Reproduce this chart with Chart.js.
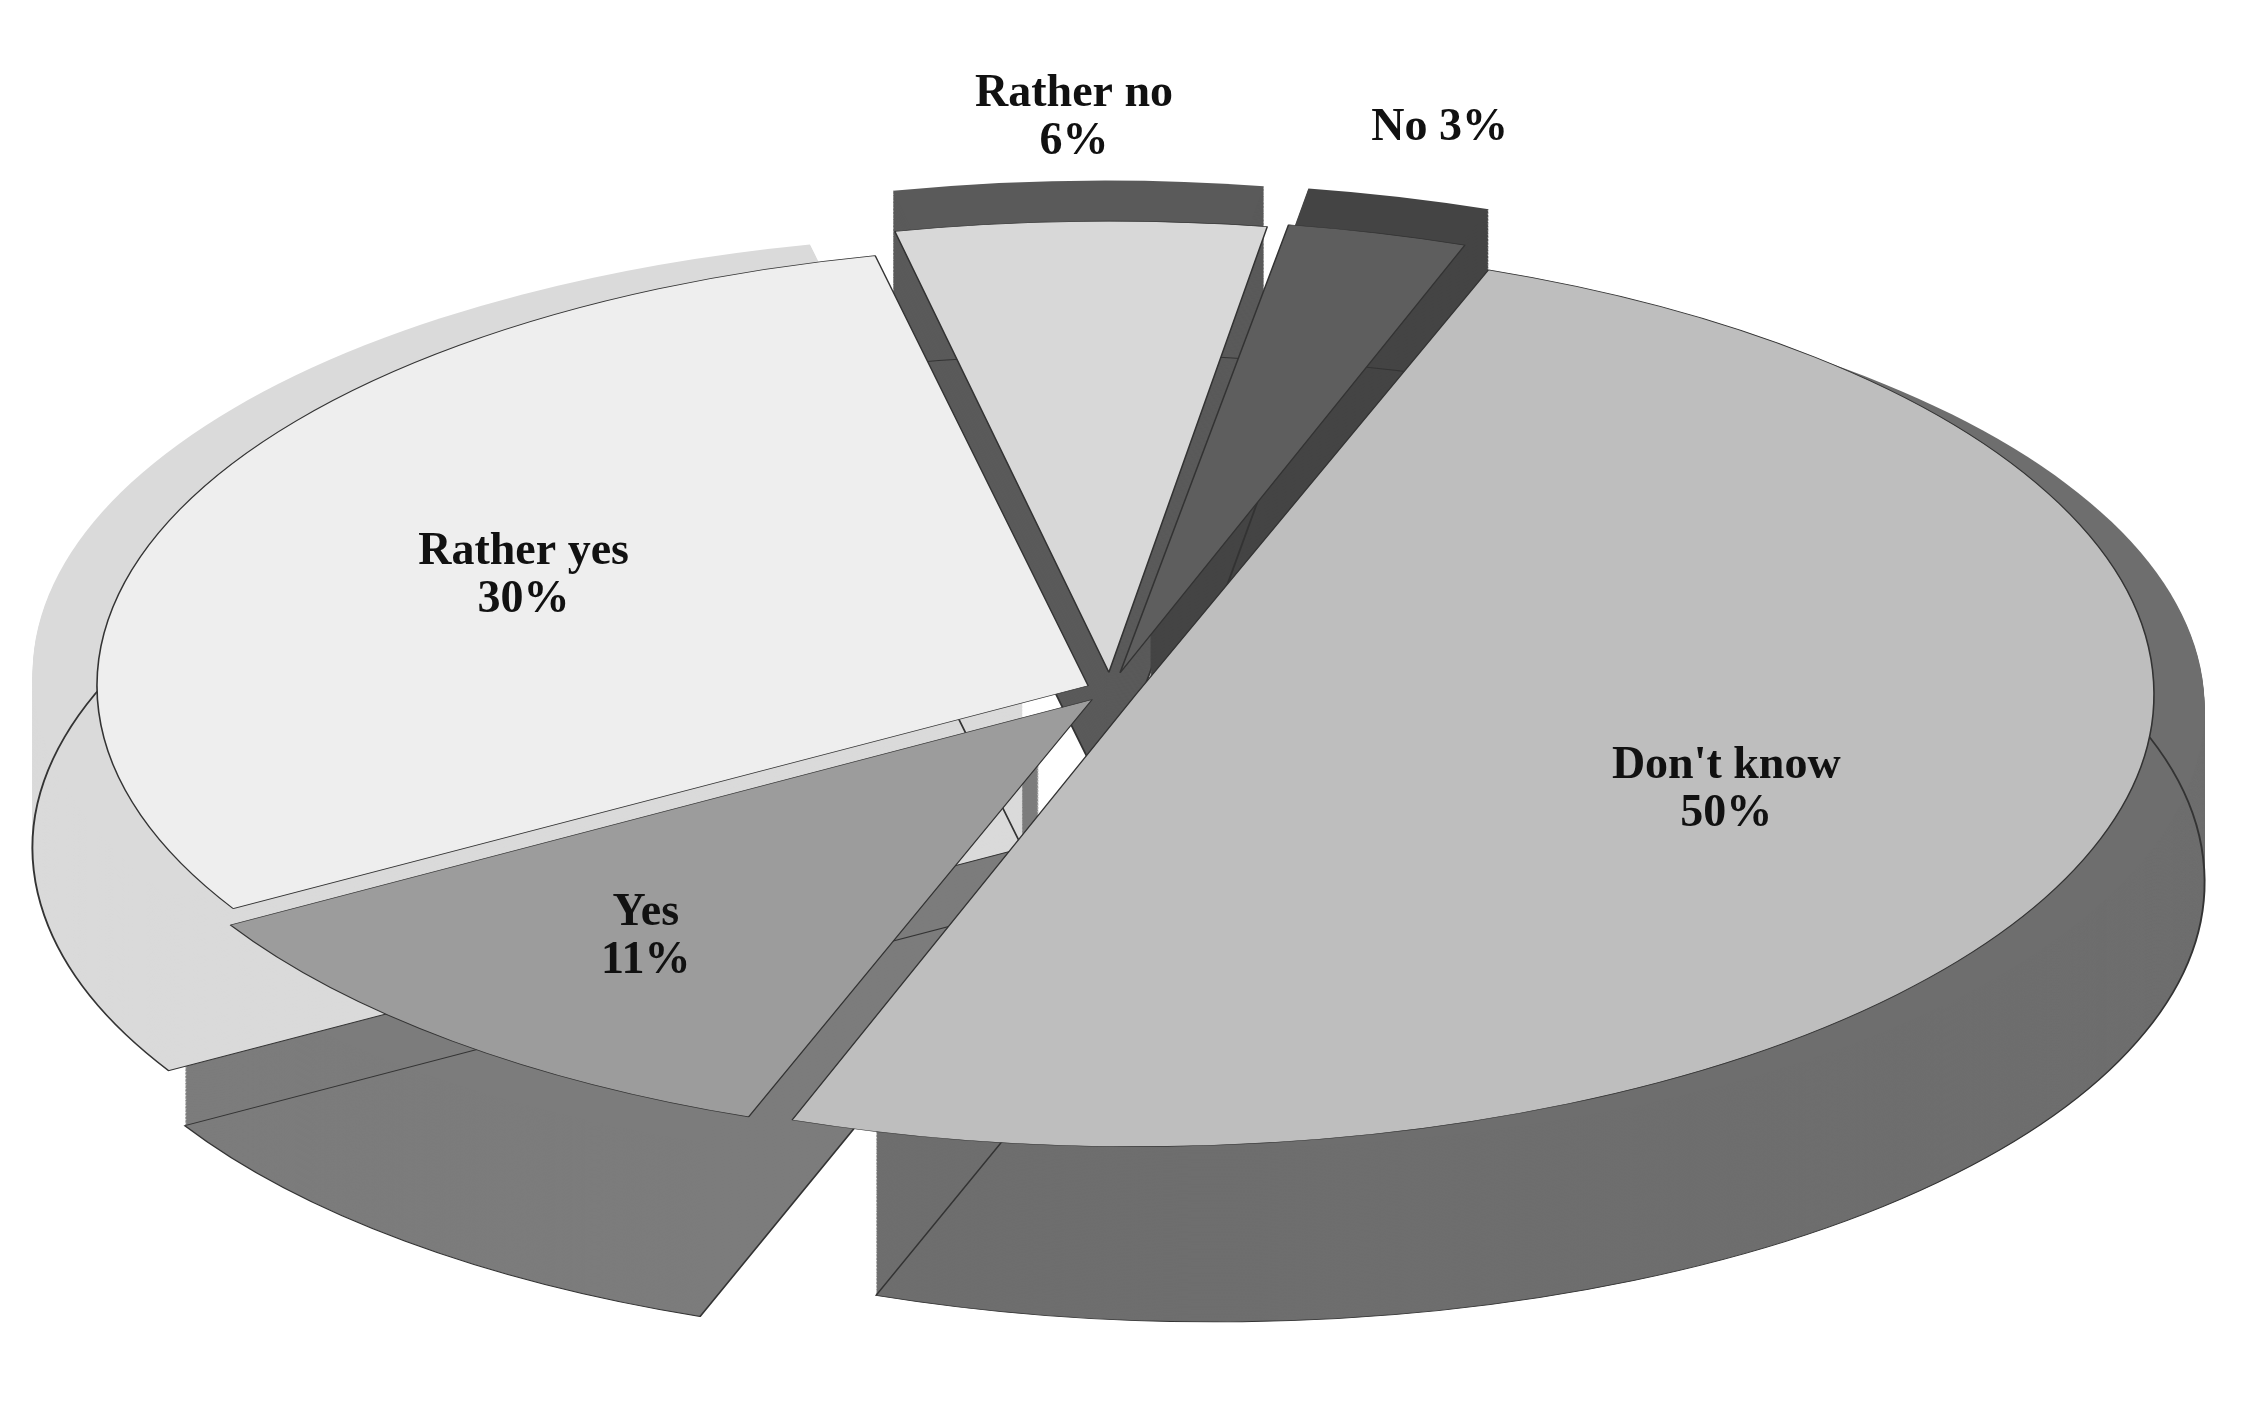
<!DOCTYPE html>
<html>
<head>
<meta charset="utf-8">
<script src="https://cdn.jsdelivr.net/npm/chart.js@4/dist/chart.umd.min.js"></script>
<style>
  html, body { margin: 0; padding: 0; background: #fff; }
  #wrap { width: 2257px; height: 1426px; }
</style>
</head>
<body>
<div id="wrap"><canvas id="pie"></canvas></div>
<script>
// Data
const labels = ["Don't know", 'Yes', 'Rather yes', 'Rather no', 'No'];
const values = [50, 11, 30, 6, 3];
const topColors = ['#bebebe', '#9c9c9c', '#eeeeee', '#d8d8d8', '#5e5e5e'];
const sideColors = ['#6e6e6e', '#7c7c7c', '#dadada', '#5a5a5a', '#444444'];
const labelText = [["Don't know", '50%'], ['Yes', '11%'], ['Rather yes', '30%'], ['Rather no', '6%'], ['No 3%']];
const offsets = [70, 70, 60, 100, 100];

// fake 3D view settings
const CX = 1110, CY = 690;
const SEMI_X = 990, SEMI_Y = 440;
const DEPTH_PX = 175;

function viewScale(chart) {
  const r = chart.getDatasetMeta(0).data[0].outerRadius;
  return { sx: SEMI_X / r, sy: SEMI_Y / r };
}

function applyView(chart, ctx) {
  const a = chart.chartArea;
  const mx = (a.left + a.right) / 2, my = (a.top + a.bottom) / 2;
  const s = viewScale(chart);
  ctx.translate(CX, CY);
  ctx.scale(s.sx, s.sy);
  ctx.translate(-mx, -my);
}

function slicePath(ctx, el, dy) {
  const mid = (el.startAngle + el.endAngle) / 2;
  const off = el.options.offset || 0;
  const x = el.x + Math.cos(mid) * off;
  const y = el.y + Math.sin(mid) * off + dy;
  ctx.beginPath();
  ctx.moveTo(x, y);
  ctx.arc(x, y, el.outerRadius, el.startAngle, el.endAngle);
  ctx.closePath();
}

const pie3d = {
  id: 'pie3d',
  beforeDatasetsDraw(chart) {
    const ctx = chart.ctx;
    ctx.save();
    applyView(chart, ctx);
    const depth = DEPTH_PX / viewScale(chart).sy;
    const arcs = chart.getDatasetMeta(0).data;
    arcs.forEach((el, i) => {
      ctx.fillStyle = sideColors[i];
      for (let d = depth; d > 0; d -= 2) {
        slicePath(ctx, el, d);
        ctx.fill();
      }
      slicePath(ctx, el, depth);
      ctx.strokeStyle = '#333';
      ctx.lineWidth = 1.2;
      ctx.stroke();
    });
  },
  afterDatasetsDraw(chart) {
    chart.ctx.restore();
  },
  afterDraw(chart) {
    const ctx = chart.ctx;
    const arcs = chart.getDatasetMeta(0).data;
    const a = chart.chartArea;
    const mx = (a.left + a.right) / 2, my = (a.top + a.bottom) / 2;
    const s = viewScale(chart);
    const fr = [0.55, 0.62, 0.55, 1.14, 1.16];
    ctx.save();
    ctx.font = 'bold 46px "Liberation Serif", "DejaVu Serif", serif';
    ctx.fillStyle = '#111';
    ctx.textAlign = 'center';
    ctx.textBaseline = 'middle';
    arcs.forEach((el, i) => {
      const mid = (el.startAngle + el.endAngle) / 2;
      const off = el.options.offset || 0;
      const r = el.outerRadius * fr[i] + off;
      const x = CX + (el.x - mx + Math.cos(mid) * r) * s.sx;
      const y = CY + (el.y - my + Math.sin(mid) * r) * s.sy;
      const lines = labelText[i];
      lines.forEach((t, k) => {
        ctx.fillText(t, x, y + (k - (lines.length - 1) / 2) * 48);
      });
    });
    ctx.restore();
  }
};

new Chart(document.getElementById('pie'), {
  type: 'pie',
  data: {
    labels: labels,
    datasets: [{
      data: values,
      backgroundColor: topColors,
      borderColor: '#333',
      borderWidth: 1,
      offset: offsets,
      clip: false
    }]
  },
  options: {
    responsive: true,
    maintainAspectRatio: false,
    animation: false,
    rotation: 20,
    layout: { padding: { top: 40, bottom: 40 } },
    plugins: {
      legend: { display: false },
      tooltip: { enabled: false }
    }
  },
  plugins: [pie3d]
});
</script>
</body>
</html>
